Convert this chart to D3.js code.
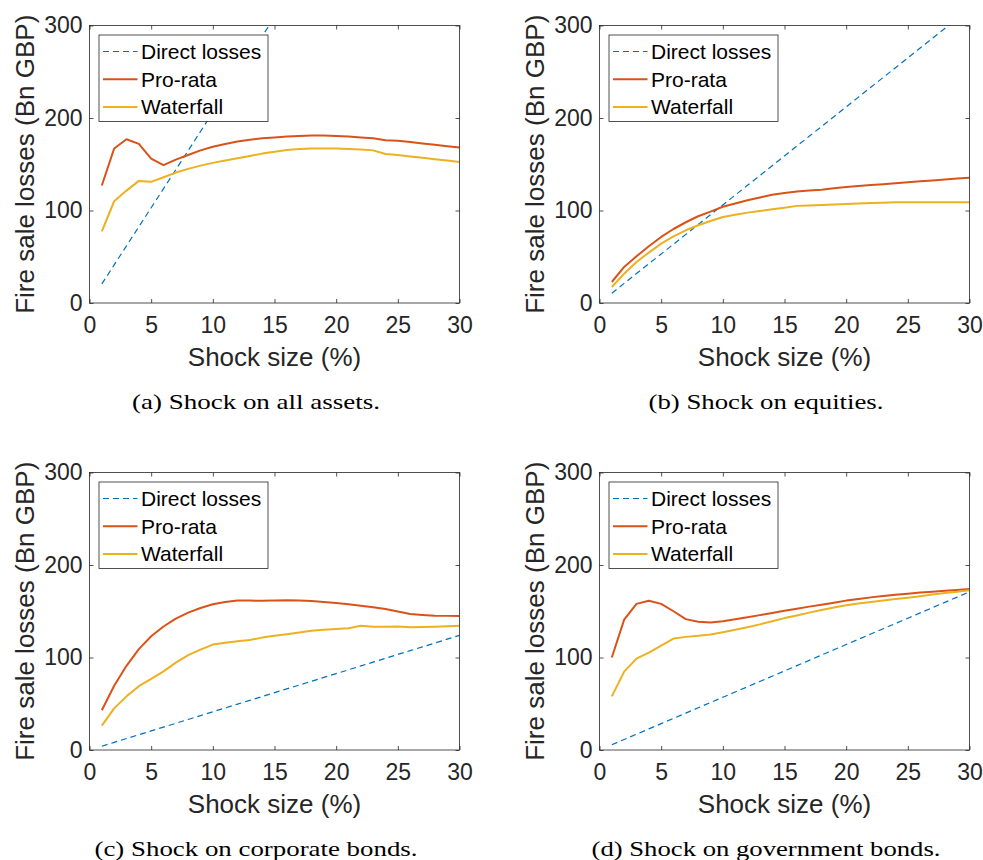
<!DOCTYPE html>
<html>
<head>
<meta charset="utf-8">
<script src="https://cdn.jsdelivr.net/npm/d3@7"></script>
<style>
  body { margin: 0; background: white; }
  svg { display: block; }
  .tick text { font-family: "Liberation Sans", Arial, sans-serif; fill: #262626; }
</style>
</head>
<body>
<script>
// Fire sale losses, four shock scenarios

const shock = [1,2,3,4,5,6,7,8,9,10,11,12,13,14,15,16,17,18,19,20,21,22,23,24,25,26,27,28,29,30]
const xTicks = [0,5,10,15,20,25,30]
const yTicks = [0,100,200,300]
const seriesNames = ["Direct losses", "Pro-rata", "Waterfall"]

//* (a) all assets
const directA = [20.6,41.2,61.8,82.4,103,123.6,144.2,164.8,185.4,206,226.6,247.2,267.8,288.4,309,329.6,350.2,370.8,391.4,412,432.6,453.2,473.8,494.4,515,535.6,556.2,576.8,597.4,618]
const proRataA = [127,167,177,172,156,149,155,160,165,169,172,174.5,176.5,178,179,180,180.5,181,181,180.5,180,179,178,176,175.5,174,172.5,171,169.5,168]
const waterfallA = [77.5,110,121.5,132,131,136,141,145,148.5,151.5,154,156.5,159,161.5,163.5,165.5,166.5,167,167,167,166.5,166,165,161,160,158.5,157,155.5,154,152.5]

//* (b) equities
const directB = [10.6,21.2,31.8,42.4,53,63.6,74.2,84.8,95.4,106,116.6,127.2,137.8,148.4,159,169.6,180.2,190.8,201.4,212,222.6,233.2,243.8,254.4,265,275.6,286.2,296.8,307.4,318]
const proRataB = [22.7,39,50.5,61.3,71.4,80,87.3,93.8,98.8,104,107.5,111,114,117,119,120.5,121.5,122.5,124,125.5,126.5,127.5,128.5,129.5,130.5,131.5,132.5,133.5,134.5,135.5]
const waterfallB = [17.3,31.7,44.4,54.5,64.2,72,78.6,84,88.7,93,95.5,97.7,99.5,101.3,103,105,105.5,106,106.5,107,107.5,108,108.5,109,109,109,109,109,109,109]

//* (c) corporate bonds
const directC = [4.1,8.3,12.4,16.5,20.7,24.8,28.9,33,37.2,41.3,45.4,49.6,53.7,57.8,62,66.1,70.2,74.3,78.5,82.6,86.7,90.9,95,99.1,103.3,107.4,111.5,115.6,119.8,123.9]
const proRataC = [43,69.5,91,109,123,133.5,142,148.5,153.5,157.5,160,161.5,161.5,161.3,161.7,162,161.7,161,160,158.8,157.5,156,154.3,152.5,149.8,147,146,145.2,145,145]
const waterfallC = [26.4,45,58,69,77,85,94.5,102.5,108.5,114,116,117.5,119,121.5,123.5,125.2,127,128.8,130,130.7,131.6,134.3,133.3,133.2,133.5,132.8,133,133.3,133.7,134.2]

//* (d) government bonds
const directD = [5.7,11.4,17.1,22.8,28.5,34.2,39.9,45.6,51.3,57,62.7,68.4,74.1,79.8,85.5,91.2,96.9,102.6,108.3,114,119.7,125.4,131.1,136.8,142.5,148.2,153.9,159.6,165.3,171]
const proRataD = [100,141,158,161.4,158,150,141.5,138.6,137.9,139.3,141.3,143.5,145.8,148.2,150.6,152.8,155,157,159.3,161.5,163.3,165,166.5,167.8,169,170.2,171.2,172.2,173.1,174]
const waterfallD = [58,84.7,98.8,105.3,112.9,120.5,122.3,123.4,124.9,127.4,130,132.8,135.8,139.2,142.6,145.5,148.5,151.3,154,156.5,158.3,160,161.5,163.2,164.7,166.3,168,169.7,171.2,172.6]

const captions = ["(a) Shock on all assets.", "(b) Shock on equities.", "(c) Shock on corporate bonds.", "(d) Shock on government bonds."]

const w = 983
const h = 860
const pw = 370
const ph = 277.5
const axisColor = "#262626"
const colors = ["#0072BD", "#D95319", "#EDB120"]
const sans = '"Liberation Sans", Arial, sans-serif'

const panels = [
    {left: 89.5, top: 25.5, data: [directA, proRataA, waterfallA], caption: captions[0], capX: 256, capW: 248},
    {left: 599.5, top: 25.5, data: [directB, proRataB, waterfallB], caption: captions[1], capX: 766, capW: 235},
    {left: 89.5, top: 472.5, data: [directC, proRataC, waterfallC], caption: captions[2], capX: 256, capW: 323},
    {left: 599.5, top: 472.5, data: [directD, proRataD, waterfallD], caption: captions[3], capX: 766, capW: 349}
]

const svg = d3.select("body")
              .append("svg")
              .attr("width", w)
              .attr("height", h)
              .style("background-color", "white")

const xScale = d3.scaleLinear().domain([0, 30]).range([0, pw])
const yScale = d3.scaleLinear().domain([0, 300]).range([ph, 0])

panels.forEach((p, i) => {
    const g = svg.append("g").attr("transform", "translate(" + p.left + "," + p.top + ")")

    g.append("clipPath")
     .attr("id", "clip" + i)
     .append("rect")
     .attr("width", pw)
     .attr("height", ph)

    //? axes, ticks point inwards on all four sides
    const xAxis = d3.axisBottom(xScale).tickValues(xTicks).tickSizeInner(-4).tickSizeOuter(0).tickPadding(14)
    const xTop = d3.axisTop(xScale).tickValues(xTicks).tickSizeInner(-4).tickSizeOuter(0).tickFormat("")
    const yAxis = d3.axisLeft(yScale).tickValues(yTicks).tickSizeInner(-4).tickSizeOuter(0).tickPadding(7)
    const yRight = d3.axisRight(yScale).tickValues(yTicks).tickSizeInner(-4).tickSizeOuter(0).tickFormat("")

    const gx = g.append("g").attr("transform", "translate(0," + ph + ")").call(xAxis)
    const gy = g.append("g").call(yAxis)
    g.append("g").call(xTop)
    g.append("g").attr("transform", "translate(" + pw + ",0)").call(yRight)

    g.selectAll(".domain").remove()
    g.selectAll(".tick line").attr("stroke", axisColor).attr("stroke-width", 0.8)
    gx.selectAll("text").style("font-size", "23px")
    gy.selectAll("text").style("font-size", "23px")

    // lines
    const line = d3.line()
                   .x((d, k) => xScale(shock[k]))
                   .y((d) => yScale(d))

    const lines = g.append("g").attr("clip-path", "url(#clip" + i + ")")
    p.data.forEach((s, k) => {
        lines.append("path")
             .datum(s)
             .attr("d", line)
             .attr("fill", "none")
             .attr("stroke", colors[k])
             .attr("stroke-width", k === 0 ? 1.2 : 2)
             .attr("stroke-dasharray", k === 0 ? "6,4" : null)
             .attr("stroke-linejoin", "round")
    })

    g.append("rect")
     .attr("width", pw)
     .attr("height", ph)
     .attr("fill", "none")
     .attr("stroke", axisColor)
     .attr("stroke-width", 0.8)

    // legend
    const lg = g.append("g").attr("transform", "translate(9.5,9.5)")
    lg.append("rect")
      .attr("width", 169)
      .attr("height", 86.5)
      .attr("fill", "white")
      .attr("stroke", axisColor)
      .attr("stroke-width", 0.8)
    seriesNames.forEach((name, k) => {
        const ry = 16.5 + k * 27.8
        lg.append("line")
          .attr("x1", 4).attr("x2", 38.5)
          .attr("y1", ry).attr("y2", ry)
          .attr("stroke", colors[k])
          .attr("stroke-width", k === 0 ? 1.2 : 2)
          .attr("stroke-dasharray", k === 0 ? "6,4" : null)
        lg.append("text")
          .attr("x", 42)
          .attr("y", ry)
          .attr("dy", "0.35em")
          .style("font-family", sans)
          .style("font-size", "21px")
          .attr("fill", "black")
          .text(name)
    })

    // axis titles
    g.append("text")
     .attr("x", pw / 2)
     .attr("y", ph + 63)
     .attr("text-anchor", "middle")
     .style("font-family", sans)
     .style("font-size", "26px")
     .attr("fill", axisColor)
     .text("Shock size (%)")

    g.append("text")
     .attr("transform", "translate(-56," + (ph / 2) + ") rotate(-90)")
     .attr("text-anchor", "middle")
     .style("font-family", sans)
     .style("font-size", "26px")
     .attr("fill", axisColor)
     .text("Fire sale losses (Bn GBP)")

    // caption under each panel
    svg.append("text")
       .attr("x", p.capX)
       .attr("y", p.top + ph + 106)
       .attr("text-anchor", "middle")
       .attr("textLength", p.capW)
       .attr("lengthAdjust", "spacingAndGlyphs")
       .style("font-family", '"Liberation Serif", "Times New Roman", serif')
       .style("font-size", "22px")
       .attr("fill", "black")
       .text(p.caption)
})
</script>
</body>
</html>
